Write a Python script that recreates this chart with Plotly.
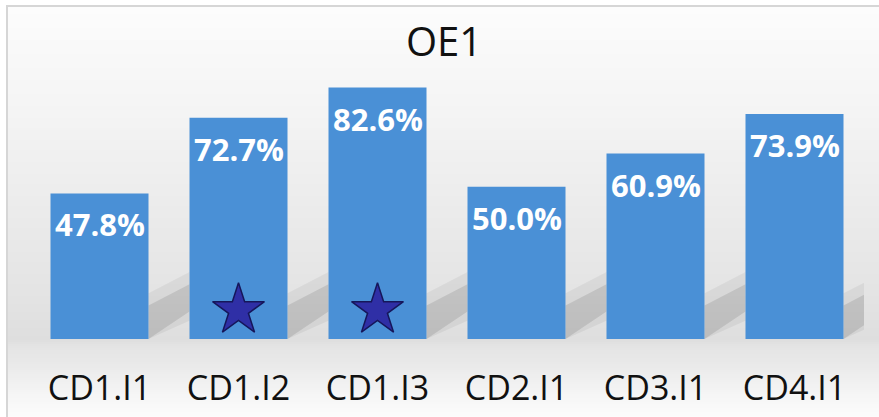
import plotly.graph_objects as go

# Data
categories = ["CD1.I1", "CD1.I2", "CD1.I3", "CD2.I1", "CD3.I1", "CD4.I1"]
values = [0.478, 0.727, 0.826, 0.500, 0.609, 0.739]
star_categories = ["CD1.I2", "CD1.I3"]
title_text = "OE1"

# Figure geometry (pixels)
W, H = 879, 417
ML, MR, MT, MB = 30, 15, 65, 78
PW, PH = W - ML - MR, H - MT - MB
BAR_GAP = 0.295
STAR_Y = 0.095


def px_x(px):
    return (px - ML) / PW


def px_y(py):
    return (H - MB - py) / PH


fig = go.Figure()

# Bars
fig.add_trace(go.Bar(
    x=categories, y=values,
    marker=dict(color="#4a90d6", line=dict(width=0)),
    hoverinfo="x+y",
    showlegend=False,
))

# Stars on selected bars
fig.add_trace(go.Scatter(
    x=star_categories, y=[STAR_Y] * len(star_categories),
    mode="markers",
    marker=dict(symbol="star", size=39, color="#2f2fa6",
                line=dict(color="#16165a", width=1.5)),
    hoverinfo="skip",
    showlegend=False,
))

# Value labels inside the top of each bar
for c, v in zip(categories, values):
    fig.add_annotation(
        x=c, y=v, xref="x", yref="y",
        text=f"<b>{v * 100:.1f}%</b>",
        showarrow=False, yanchor="middle", yshift=-31,
        font=dict(family="Open Sans", size=31, color="white"),
    )

shapes = []

# Background vertical gradient (light at top, grey toward floor, fading below)
stops = [(6, 252), (100, 245), (200, 236), (300, 227), (339, 222),
         (345, 228), (365, 234), (395, 246), (420, 253)]
step = 2
y = 6
while y < 420:
    for (ya, ga), (yb, gb) in zip(stops[:-1], stops[1:]):
        if ya <= y < yb:
            g = int(round(ga + (gb - ga) * (y - ya) / (yb - ya)))
            break
    shapes.append(dict(
        type="rect", xref="paper", yref="paper", layer="below",
        x0=px_x(7), x1=px_x(W + 5), y0=px_y(y + step), y1=px_y(y),
        fillcolor=f"rgb({g},{g},{g})", line=dict(width=0),
    ))
    y += step

# Soft diagonal shadows to the right of each bar
half = (1 - BAR_GAP) / 2
for i in range(len(categories)):
    r = i + half
    g = 1 - 2 * half
    shapes.append(dict(
        type="path", xref="x", yref="y", layer="below",
        path=f"M {r},0 L {r},0.15 L {r + g},0.22 L {r + g},0.06 Z",
        fillcolor="rgba(0,0,0,0.05)", line=dict(width=0),
    ))
    shapes.append(dict(
        type="path", xref="x", yref="y", layer="below",
        path=f"M {r},0 L {r},0.11 L {r + g},0.18 L {r + g},0.09 Z",
        fillcolor="rgba(0,0,0,0.10)", line=dict(width=0),
    ))

# Chart border
shapes.append(dict(
    type="rect", xref="paper", yref="paper", layer="above",
    x0=px_x(7), x1=px_x(W + 5), y0=px_y(H + 5), y1=px_y(6),
    fillcolor="rgba(0,0,0,0)", line=dict(color="#d6d6d6", width=2),
))

fig.update_layout(
    width=W, height=H,
    margin=dict(l=ML, r=MR, t=MT, b=MB, autoexpand=False),
    paper_bgcolor="white",
    plot_bgcolor="rgba(0,0,0,0)",
    bargap=BAR_GAP,
    shapes=shapes,
    title=dict(
        text=title_text, x=444 / W, xref="container", xanchor="center",
        y=1 - 42 / H, yref="container", yanchor="middle",
        font=dict(family="Open Sans", size=40, color="#111111"),
    ),
    xaxis=dict(
        type="category", range=[-0.5, len(categories) - 0.5],
        showgrid=False, zeroline=False, showline=False,
        automargin=False,
        ticks="outside", ticklen=19, tickcolor="rgba(0,0,0,0)",
        tickfont=dict(family="Open Sans", size=34, color="#111111"),
    ),
    yaxis=dict(range=[0, 0.9], visible=False, automargin=False),
)

# Page body margin off so the figure sits at the window's top-left corner
fig.write_html("out.html", config={"displayModeBar": False},
               post_script="document.body.style.margin='0';")
